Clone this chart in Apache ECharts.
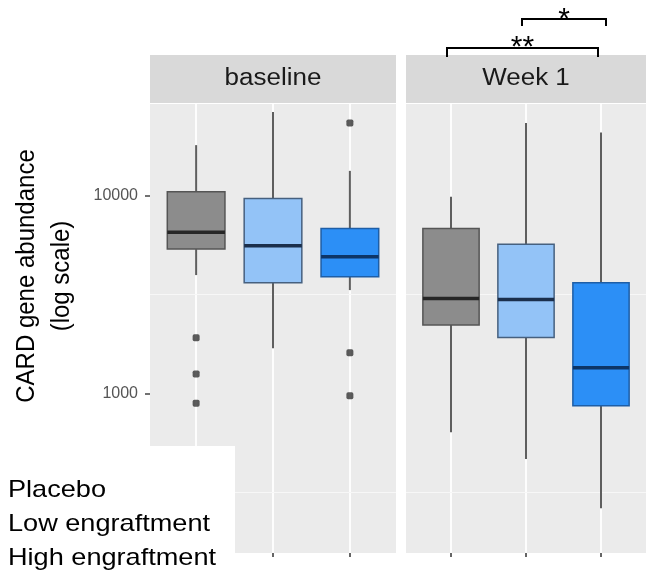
<!DOCTYPE html>
<html><head><meta charset="utf-8">
<script src="https://cdn.jsdelivr.net/npm/echarts@6/dist/echarts.min.js"></script>
<style>html,body{margin:0;padding:0;background:#fff}#c{width:646px;height:582px}</style>
</head><body><div id="c"></div>
<script>
// ---- data ----
const categories = ['Placebo', 'Low engraftment', 'High engraftment'];
const facets = ['baseline', 'Week 1'];
// [lower whisker, Q1, median, Q3, upper whisker]
const baselineBoxes = [
  [3970, 5375, 6550, 10480, 18060],
  [1690, 3630, 5585, 9700, 26600],
  [3333, 3890, 4910, 6840, 13380]
];
const week1Boxes = [
  [635, 2217, 3025, 6840, 9890],
  [465, 1920, 2990, 5695, 23400],
  [262, 866, 1349, 3630, 20930]
];
const baselineOutliers = [[1911, 1253, 890], [], [23400, 1607, 972]];
const week1Outliers = [[], [], []];
const yTicks = [1000, 10000];
const yMinorBreaks = [316.2, 3162];
const yRange = [155.5, 29170];
const brackets = [
  { from: 0, to: 2, label: '**', dx1: -4, dx2: -3, level: 0 },
  { from: 1, to: 2, label: '*', dx1: -4, dx2: 5, level: 1 }
];

// ---- style ----
const FONT = 'Liberation Sans, Arial, sans-serif';
const fills = ['#8c8c8c', '#93c3f7', '#2c8ff6'];
const borders = ['#555555', '#46607f', '#1e5ea6'];
const medians = ['#262626', '#1b2f4c', '#0d3567'];
const panels = [{ left: 150, width: 246 }, { left: 406, width: 246 }];
const PANEL_TOP = 104, PANEL_H = 449, STRIP_TOP = 55, STRIP_H = 48;
const catIdx = categories.map((c, i) => i);

const chart = echarts.init(document.getElementById('c'), null, { renderer: 'canvas' });

const grids = panels.map(p => ({
  left: p.left, top: PANEL_TOP, width: p.width, height: PANEL_H,
  show: true, backgroundColor: '#ebebeb', borderWidth: 0, containLabel: false
}));

const xAxes = panels.map((p, i) => ({
  type: 'value', gridIndex: i, min: -0.6, max: catIdx.length - 1 + 0.6, position: 'bottom',
  axisLine: { show: false, onZero: false },
  axisTick: { show: true, customValues: catIdx, length: 4, lineStyle: { color: '#333', width: 1.5 } },
  axisLabel: { show: false },
  splitLine: { show: false }
}));

const yAxes = panels.map((p, i) => ({
  type: 'log', logBase: 10, gridIndex: i, min: yRange[0], max: yRange[1], position: 'left',
  axisLine: { show: false, onZero: false },
  axisTick: { show: i === 0, inside: false, length: 5, customValues: yTicks, lineStyle: { color: '#444', width: 1.5 } },
  axisLabel: {
    show: i === 0, customValues: yTicks, margin: 12, color: '#555', fontSize: 16, fontFamily: FONT,
    formatter: v => String(Math.round(v))
  },
  splitLine: { show: true, showMinLine: false, showMaxLine: false, lineStyle: { color: '#ffffff', width: 1.8 } }
}));

function boxRender(params, api) {
  const c = api.value(0);
  const g = api.value(6);
  const vals = [1, 2, 3, 4, 5].map(k => api.value(k));
  const pts = vals.map(v => api.coord([c, v]));
  const cx = pts[0][0];
  const unit = api.coord([1, vals[2]])[0] - api.coord([0, vals[2]])[0];
  const bw = unit * 0.75;
  const [yLo, yQ1, yMed, yQ3, yHi] = pts.map(p => p[1]);
  return {
    type: 'group',
    children: [
      { type: 'line', shape: { x1: cx, y1: yHi, x2: cx, y2: yQ3 }, style: { stroke: '#5e5e5e', lineWidth: 2 } },
      { type: 'line', shape: { x1: cx, y1: yQ1, x2: cx, y2: yLo }, style: { stroke: '#5e5e5e', lineWidth: 2 } },
      { type: 'rect', shape: { x: cx - bw / 2, y: yQ3, width: bw, height: yQ1 - yQ3 },
        style: { fill: fills[g], stroke: borders[g], lineWidth: 1.5 } },
      { type: 'line', shape: { x1: cx - bw / 2, y1: yMed, x2: cx + bw / 2, y2: yMed },
        style: { stroke: medians[g], lineWidth: 3.5 } }
    ]
  };
}

const boxSets = [baselineBoxes, week1Boxes];
const outSets = [baselineOutliers, week1Outliers];
const series = [];
panels.forEach((p, i) => {
  // background gridlines (vertical at categories, minor horizontals)
  series.push({
    type: 'scatter', xAxisIndex: i, yAxisIndex: i, data: [], silent: true, z: 1,
    markLine: {
      silent: true, symbol: 'none', z: 1, animation: false, label: { show: false },
      data: catIdx.map(c => ({ xAxis: c, lineStyle: { color: '#fff', width: 1.8, type: 'solid' } }))
        .concat(yMinorBreaks.map(v => ({ yAxis: v, lineStyle: { color: '#f7f7f7', width: 1, type: 'solid' } })))
    }
  });
  categories.forEach((name, g) => {
    const b = boxSets[i][g];
    series.push({
      type: 'custom', name: name, xAxisIndex: i, yAxisIndex: i, z: 3,
      renderItem: boxRender, silent: true,
      encode: { x: 0, y: [1, 2, 3, 4, 5] },
      data: [[g, b[0], b[1], b[2], b[3], b[4], g]]
    });
    series.push({
      type: 'scatter', xAxisIndex: i, yAxisIndex: i, z: 4, silent: true,
      symbol: 'roundRect', symbolSize: 7, itemStyle: { color: '#333333' },
      data: outSets[i][g].map(v => [g, v])
    });
  });
});

const graphic = [];
// strips
panels.forEach((p, i) => {
  graphic.push({ type: 'rect', id: 'strip' + i, z: 10, shape: { x: p.left, y: STRIP_TOP, width: p.width, height: STRIP_H },
    style: { fill: '#d9d9d9' } });
});
// y title
graphic.push({ type: 'text', id: 'ytitle', z: 11, x: 44, y: 276, rotation: Math.PI / 2, scaleY: 1.1,
  style: { text: 'CARD gene abundance\n(log scale)', font: '24px ' + FONT, lineHeight: 32, fill: '#000',
    textAlign: 'center', textVerticalAlign: 'middle' } });
// legend (white box with labels)
graphic.push({ type: 'rect', id: 'legbox', z: 20, shape: { x: 0, y: 446, width: 235, height: 140 }, style: { fill: '#ffffff' } });
categories.forEach((name, g) => {
  graphic.push({ type: 'text', id: 'leg' + g, z: 21, x: 8, y: 490 + g * 34, scaleX: 1.13,
    style: { text: name, font: '24px ' + FONT, fill: '#000', textAlign: 'left', textVerticalAlign: 'middle' } });
});

chart.setOption({
  animation: false,
  backgroundColor: '#ffffff',
  grid: grids, xAxis: xAxes, yAxis: yAxes, series: series, graphic: graphic
});

// strip labels, centred on each panel; significance brackets from the Week 1 axis
const extra = [];
panels.forEach((p, i) => {
  const cx = (chart.convertToPixel({ xAxisIndex: i }, -0.6) + chart.convertToPixel({ xAxisIndex: i }, catIdx.length - 1 + 0.6)) / 2;
  extra.push({ type: 'text', id: 'stripText' + i, z: 11, x: cx, y: STRIP_TOP + STRIP_H / 2, scaleX: 1.13,
    style: { text: facets[i], font: '23px ' + FONT, fill: '#1a1a1a', textAlign: 'center', textVerticalAlign: 'middle' } });
});
const bracketLevels = [{ y: 48, leg: 9, textY: 63 }, { y: 19, leg: 7, textY: 35 }];
brackets.forEach((b, k) => {
  const x1 = chart.convertToPixel({ xAxisIndex: 1 }, b.from) + b.dx1;
  const x2 = chart.convertToPixel({ xAxisIndex: 1 }, b.to) + b.dx2;
  const L = bracketLevels[b.level];
  extra.push({ type: 'polyline', id: 'br' + k, z: 12,
    shape: { points: [[x1, L.y + L.leg], [x1, L.y], [x2, L.y], [x2, L.y + L.leg]] },
    style: { stroke: '#000', lineWidth: 2, fill: null } });
  extra.push({ type: 'text', id: 'brt' + k, z: 12, x: (x1 + x2) / 2, y: L.textY,
    style: { text: b.label, font: '30px ' + FONT, fill: '#000', textAlign: 'center', textVerticalAlign: 'bottom' } });
});
chart.setOption({ graphic: extra });
</script>
</body></html>
